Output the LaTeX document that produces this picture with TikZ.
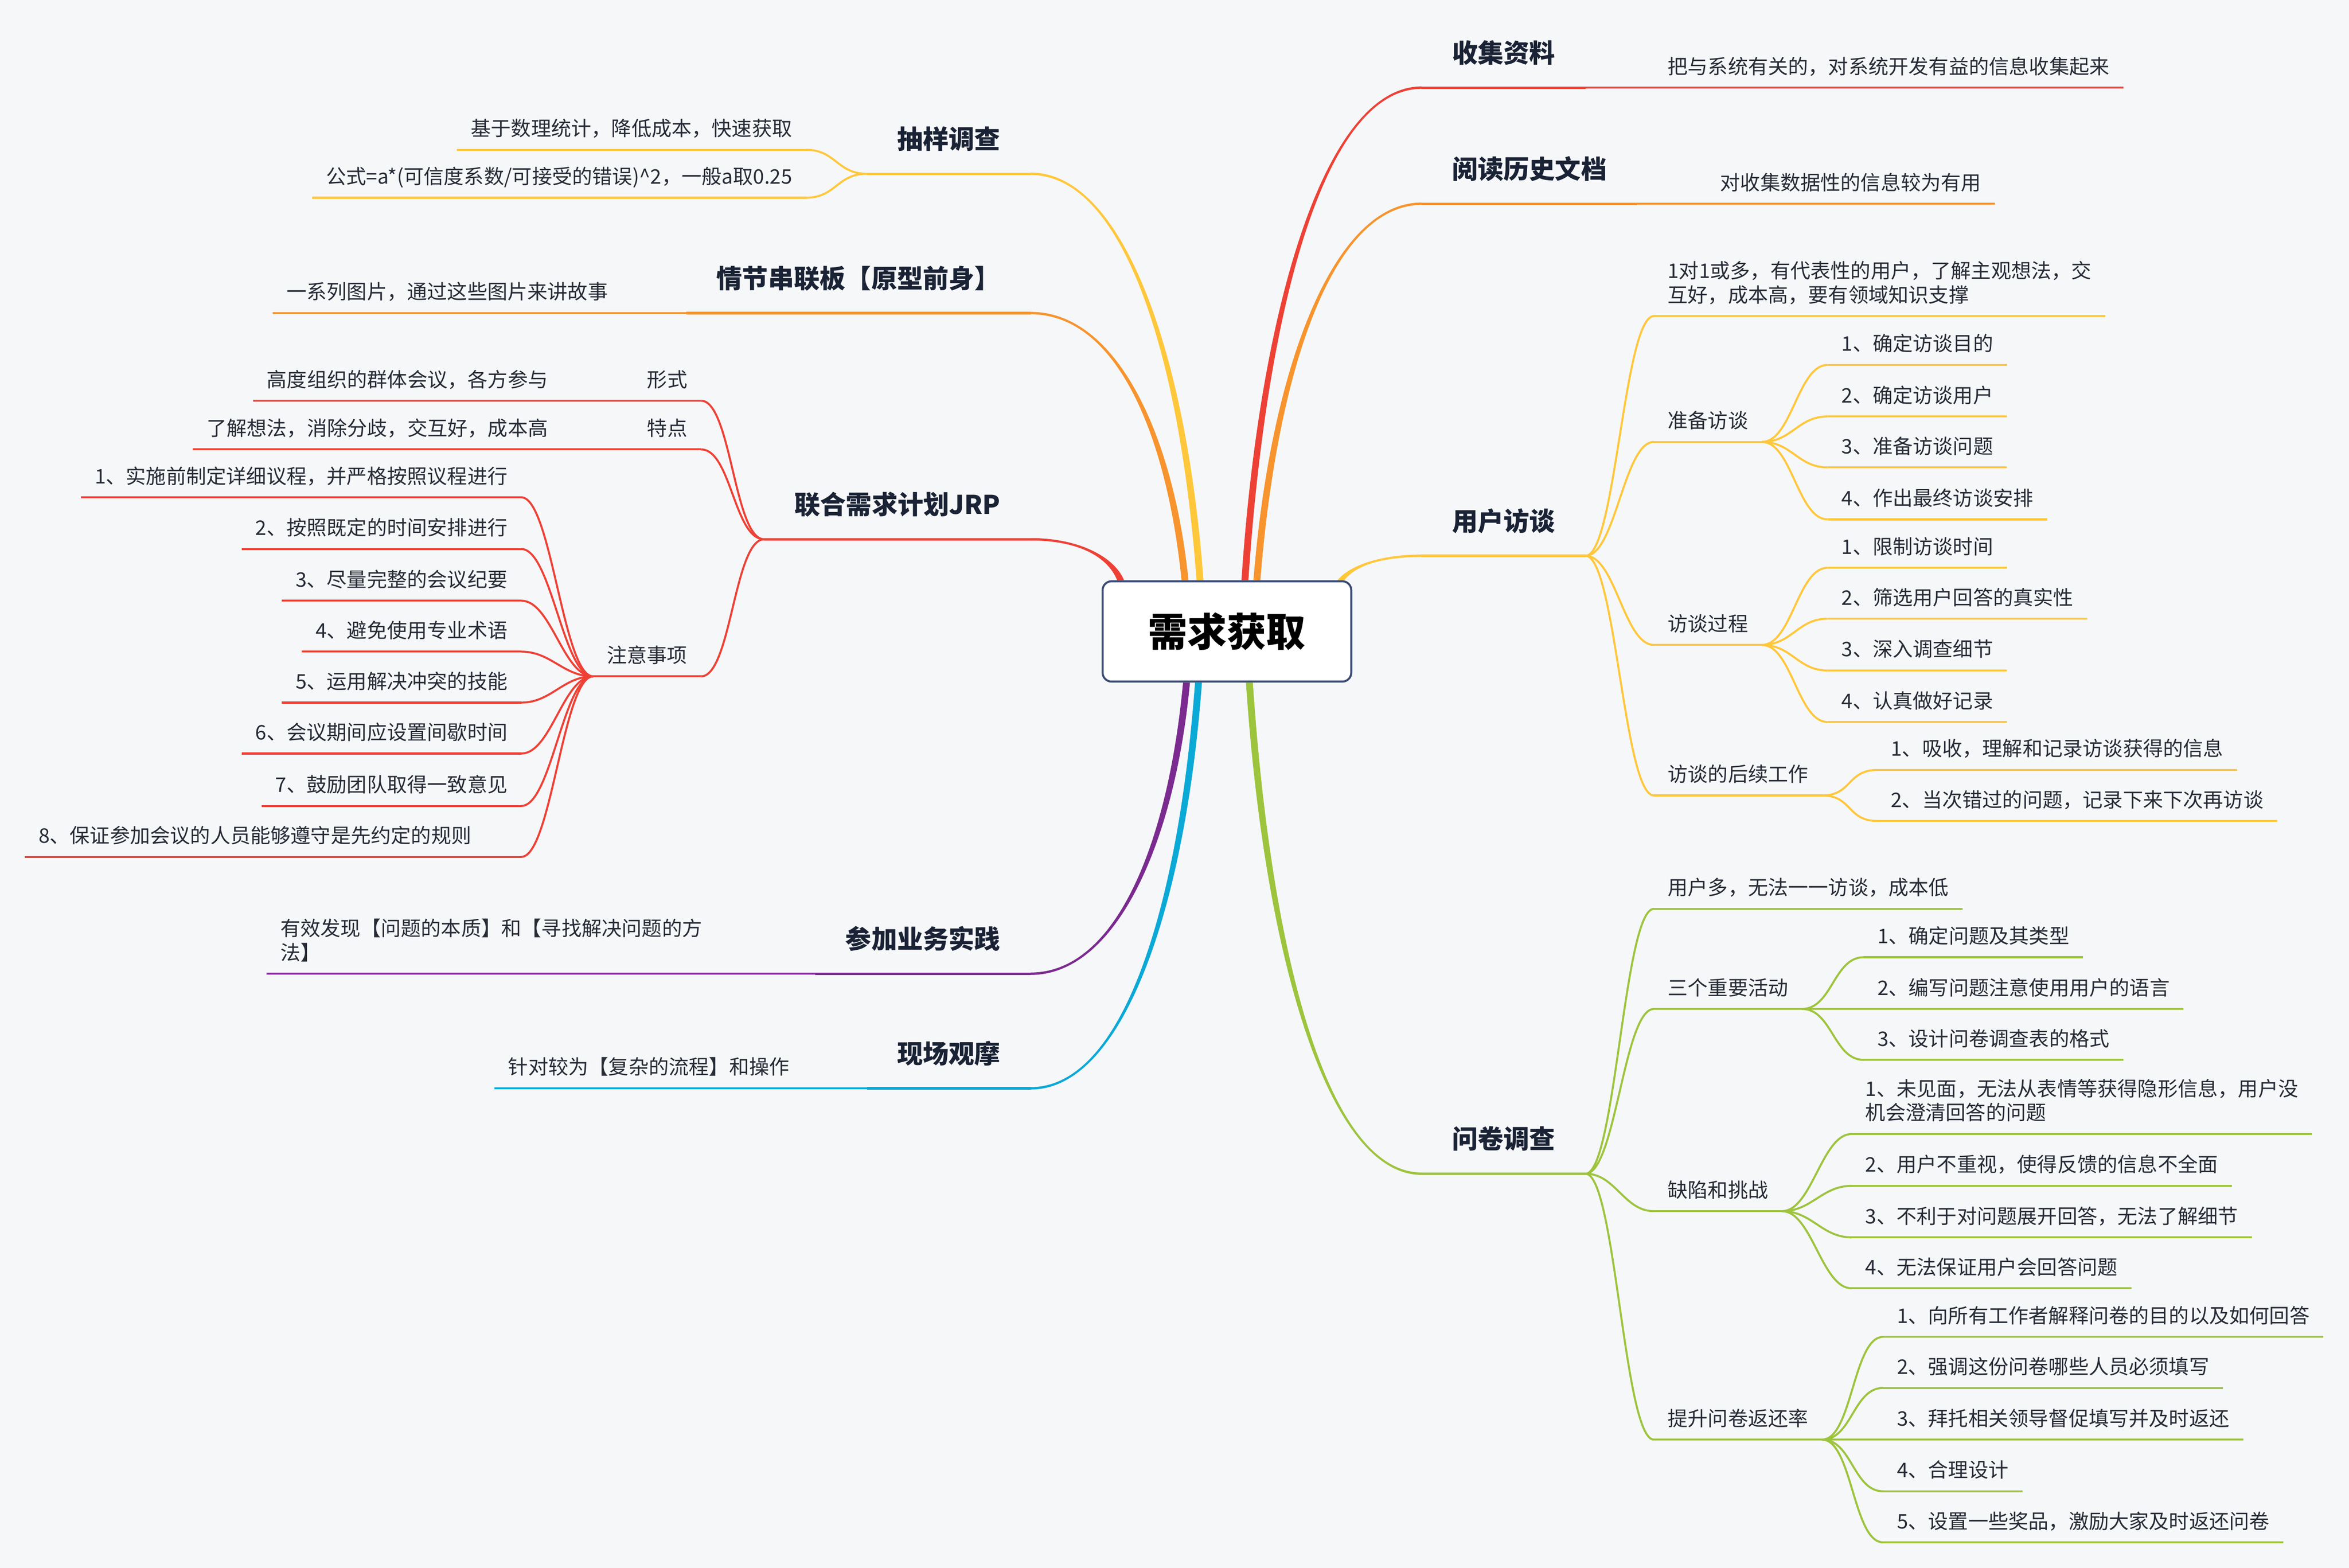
\documentclass[tikz,border=0pt]{standalone}
\usepackage{fontspec}
\setmainfont{Noto Sans CJK SC}
\usetikzlibrary{calc}
\usetikzlibrary{backgrounds}
\definecolor{bgcol}{HTML}{F6F7F9}
\definecolor{rootcol}{HTML}{3A4B74}
\definecolor{leafcol}{HTML}{262B36}
\definecolor{topiccol}{HTML}{1A2335}
\definecolor{cred}{HTML}{EE4136}
\definecolor{corange}{HTML}{F7942D}
\definecolor{cyel}{HTML}{FFC73A}
\definecolor{cpurple}{HTML}{7B2B8F}
\definecolor{ccyan}{HTML}{0AA9D6}
\definecolor{cgreen}{HTML}{9DC43D}
\tikzset{rootbox/.style={draw=rootcol, line width=0.4mm, fill=white, rounded corners=1.8mm,
      minimum width=49.8mm, minimum height=20.1mm, text=black,
      font=\fontsize{22.4pt}{26pt}\selectfont\bfseries}}
\tikzset{topic/.style={font=\fontsize{14.7pt}{17pt}\selectfont\bfseries, text=topiccol,
      inner xsep=6mm, inner ysep=2.4mm, text height=4mm, text depth=2.55mm}}
\tikzset{leaf/.style={font=\fontsize{11.44pt}{13.6pt}\selectfont, text=leafcol,
      inner xsep=2.7mm, inner ysep=0.6mm, text height=3.1mm, text depth=2.1mm}}
\tikzset{tline/.style={append after command={(\tikzlastnode.south west) edge[line width=0.5mm,#1] (\tikzlastnode.south east)}}}
\tikzset{uline/.style={append after command={(\tikzlastnode.south west) edge[line width=0.4mm,#1] (\tikzlastnode.south east)}}}
\tikzset{link/.style={line width=0.4mm}}
\newcommand{\trunk}[7]{\fill[#1] ($(#2)+(#6*2.3,0)$) .. controls +(#3) and +(#4) .. ($(#5)+(0,#7*0.8)$)
  -- ($(#5)+(0,{-(#7)*0.8})$) .. controls +(#4) and +(#3) .. ($(#2)+({-(#6)*2.3},0)$) -- cycle;}
\newcommand{\rlink}[3]{\draw[link,#1] (#2.south east) .. controls +(20,0) and +(-20,0) .. (#3.south west);}
\newcommand{\llink}[3]{\draw[link,#1] (#2.south west) .. controls +(-20,0) and +(20,0) .. (#3.south east);}

\begin{document}
\begin{tikzpicture}[x=0.3mm,y=-0.3mm]
		\useasboundingbox (0,0) rectangle (1568,1046.7);
		\node[rootbox] (root) at (819,421.5) {需求获取};
		\coordinate (sy-in) at ($(root.north)+(-18,0)$);
		\coordinate (qj-in) at ($(root.north)+(-28,0)$);
		\coordinate (jrp-in) at ($(root.north)+(-71,0)$);
		\coordinate (cj-in) at ($(root.south)+(-27,0)$);
		\coordinate (xc-in) at ($(root.south)+(-19,0)$);
		\coordinate (sj-in) at ($(root.north)+(12,0)$);
		\coordinate (yd-in) at ($(root.north)+(20,0)$);
		\coordinate (yh-in) at ($(root.north east)+(-9,2)$);
		\coordinate (wj-in) at ($(root.south)+(15,0)$);

		\node[topic, tline=cyel, anchor=south east] (sy) at (688,116) {抽样调查};
		\node[leaf, uline=cyel, anchor=south east] (sy1) at (538,100) {基于数理统计，降低成本，快速获取};
		\node[leaf, uline=cyel, anchor=south east] (sy2) at (538,132) {公式=a*(可信度系数/可接受的错误)\textasciicircum 2，一般a取0.25};
		\llink{cyel}{sy}{sy1}
		\llink{cyel}{sy}{sy2}

		\node[topic, tline=corange, anchor=south east] (qj) at (688,209) {情节串联板【原型前身】};
		\node[leaf, uline=corange, anchor=south east] (qj1) at (415,209) {一系列图片，通过这些图片来讲故事};
		\draw[link, corange] (qj.south west) -- (qj1.south east);

		\node[topic, tline=cred, anchor=south east] (jrp) at (688,360) {联合需求计划JRP};
		\node[leaf, uline=cred, anchor=south east] (xs) at (468,267.5) {形式};
		\node[leaf, uline=cred, anchor=south east] (xs1) at (375,267.5) {高度组织的群体会议，各方参与};
		\node[leaf, uline=cred, anchor=south east] (td) at (468,300) {特点};
		\node[leaf, uline=cred, anchor=south east] (td1) at (375,300) {了解想法，消除分歧，交互好，成本高};
		\node[leaf, uline=cred, anchor=south east] (zy) at (468,451.5) {注意事项};
		\node[leaf, uline=cred, anchor=south east] (zy1) at (348,332) {1、实施前制定详细议程，并严格按照议程进行};
		\node[leaf, uline=cred, anchor=south east] (zy2) at (348,366.5) {2、按照既定的时间安排进行};
		\node[leaf, uline=cred, anchor=south east] (zy3) at (348,401) {3、尽量完整的会议纪要};
		\node[leaf, uline=cred, anchor=south east] (zy4) at (348,435) {4、避免使用专业术语};
		\node[leaf, uline=cred, anchor=south east] (zy5) at (348,469) {5、运用解决冲突的技能};
		\node[leaf, uline=cred, anchor=south east] (zy6) at (348,503) {6、会议期间应设置间歇时间};
		\node[leaf, uline=cred, anchor=south east] (zy7) at (348,538) {7、鼓励团队取得一致意见};
		\node[leaf, uline=cred, anchor=south east, text width=93.9mm, align=left] (zy8) at (348,572) {8、保证参加会议的人员能够遵守是先约定的规则};
		\llink{cred}{jrp}{xs}
		\llink{cred}{jrp}{td}
		\llink{cred}{jrp}{zy}
		\draw[link, cred] (xs.south west) -- (xs1.south east);
		\draw[link, cred] (td.south west) -- (td1.south east);
		\llink{cred}{zy}{zy1}
		\llink{cred}{zy}{zy2}
		\llink{cred}{zy}{zy3}
		\llink{cred}{zy}{zy4}
		\llink{cred}{zy}{zy5}
		\llink{cred}{zy}{zy6}
		\llink{cred}{zy}{zy7}
		\llink{cred}{zy}{zy8}

		\node[topic, tline=cpurple, anchor=south east] (cj) at (688,650) {参加业务实践};
		\node[leaf, uline=cpurple, anchor=south west, align=left] (cj1) at (178,650) {有效发现【问题的本质】和【寻找解决问题的方\\法】};
		\draw[link, cpurple] (cj.south west) -- (cj1.south east);

		\node[topic, tline=ccyan, anchor=south east] (xc) at (688,726.5) {现场观摩};
		\node[leaf, uline=ccyan, anchor=south west] (xc1) at (330,726.5) {针对较为【复杂的流程】和操作};
		\draw[link, ccyan] (xc.south west) -- (xc1.south east);

		\node[topic, tline=cred, anchor=south west] (sj) at (949,58.5) {收集资料};
		\node[leaf, uline=cred, anchor=south west] (sj1) at (1104,58.5) {把与系统有关的，对系统开发有益的信息收集起来};
		\draw[link, cred] (sj.south east) -- (sj1.south west);

		\node[topic, tline=corange, anchor=south west] (yd) at (949,136) {阅读历史文档};
		\node[leaf, uline=corange, anchor=south west] (yd1) at (1139,136) {对收集数据性的信息较为有用};
		\draw[link, corange] (yd.south east) -- (yd1.south west);

		\node[topic, tline=cyel, anchor=south west] (yh) at (949,371) {用户访谈};
		\node[leaf, uline=cyel, anchor=south west, align=left] (yh1) at (1104,211) {1对1或多，有代表性的用户，了解主观想法，交\\互好，成本高，要有领域知识支撑};
		\node[leaf, uline=cyel, anchor=south west] (zb) at (1104,295) {准备访谈};
		\node[leaf, uline=cyel, anchor=south west] (zb1) at (1220,243.6) {1、确定访谈目的};
		\node[leaf, uline=cyel, anchor=south west] (zb2) at (1220,278) {2、确定访谈用户};
		\node[leaf, uline=cyel, anchor=south west] (zb3) at (1220,312) {3、准备访谈问题};
		\node[leaf, uline=cyel, anchor=south west] (zb4) at (1220,346.7) {4、作出最终访谈安排};
		\node[leaf, uline=cyel, anchor=south west] (gc) at (1104,430.5) {访谈过程};
		\node[leaf, uline=cyel, anchor=south west] (gc1) at (1220,379) {1、限制访谈时间};
		\node[leaf, uline=cyel, anchor=south west] (gc2) at (1220,413) {2、筛选用户回答的真实性};
		\node[leaf, uline=cyel, anchor=south west] (gc3) at (1220,447.6) {3、深入调查细节};
		\node[leaf, uline=cyel, anchor=south west] (gc4) at (1220,482) {4、认真做好记录};
		\node[leaf, uline=cyel, anchor=south west] (hx) at (1104,531) {访谈的后续工作};
		\node[leaf, uline=cyel, anchor=south west] (hx1) at (1253,514) {1、吸收，理解和记录访谈获得的信息};
		\node[leaf, uline=cyel, anchor=south west] (hx2) at (1253,548) {2、当次错过的问题，记录下来下次再访谈};
		\rlink{cyel}{yh}{yh1}
		\rlink{cyel}{yh}{zb}
		\rlink{cyel}{yh}{gc}
		\rlink{cyel}{yh}{hx}
		\rlink{cyel}{zb}{zb1}
		\rlink{cyel}{zb}{zb2}
		\rlink{cyel}{zb}{zb3}
		\rlink{cyel}{zb}{zb4}
		\rlink{cyel}{gc}{gc1}
		\rlink{cyel}{gc}{gc2}
		\rlink{cyel}{gc}{gc3}
		\rlink{cyel}{gc}{gc4}
		\rlink{cyel}{hx}{hx1}
		\rlink{cyel}{hx}{hx2}

		\node[topic, tline=cgreen, anchor=south west] (wj) at (949,783.5) {问卷调查};
		\node[leaf, uline=cgreen, anchor=south west] (wj1) at (1104,606.7) {用户多，无法一一访谈，成本低};
		\node[leaf, uline=cgreen, anchor=south west] (sg) at (1104,673.5) {三个重要活动};
		\node[leaf, uline=cgreen, anchor=south west] (sg1) at (1244,639) {1、确定问题及其类型};
		\node[leaf, uline=cgreen, anchor=south west] (sg2) at (1244,673.5) {2、编写问题注意使用用户的语言};
		\node[leaf, uline=cgreen, anchor=south west] (sg3) at (1244,707.5) {3、设计问卷调查表的格式};
		\node[leaf, uline=cgreen, anchor=south west] (qx) at (1104,808.5) {缺陷和挑战};
		\node[leaf, uline=cgreen, anchor=south west, align=left] (qx1) at (1236,757) {1、未见面，无法从表情等获得隐形信息，用户没\\机会澄清回答的问题};
		\node[leaf, uline=cgreen, anchor=south west] (qx2) at (1236,791.6) {2、用户不重视，使得反馈的信息不全面};
		\node[leaf, uline=cgreen, anchor=south west] (qx3) at (1236,826) {3、不利于对问题展开回答，无法了解细节};
		\node[leaf, uline=cgreen, anchor=south west] (qx4) at (1236,860) {4、无法保证用户会回答问题};
		\node[leaf, uline=cgreen, anchor=south west] (ts) at (1104,961) {提升问卷返还率};
		\node[leaf, uline=cgreen, anchor=south west] (ts1) at (1257,892.4) {1、向所有工作者解释问卷的目的以及如何回答};
		\node[leaf, uline=cgreen, anchor=south west] (ts2) at (1257,926.5) {2、强调这份问卷哪些人员必须填写};
		\node[leaf, uline=cgreen, anchor=south west] (ts3) at (1257,961) {3、拜托相关领导督促填写并及时返还};
		\node[leaf, uline=cgreen, anchor=south west] (ts4) at (1257,995.5) {4、合理设计};
		\node[leaf, uline=cgreen, anchor=south west] (ts5) at (1257,1029.6) {5、设置一些奖品，激励大家及时返还问卷};
		\rlink{cgreen}{wj}{wj1}
		\rlink{cgreen}{wj}{sg}
		\rlink{cgreen}{wj}{qx}
		\rlink{cgreen}{wj}{ts}
		\rlink{cgreen}{sg}{sg1}
		\rlink{cgreen}{sg}{sg2}
		\rlink{cgreen}{sg}{sg3}
		\rlink{cgreen}{qx}{qx1}
		\rlink{cgreen}{qx}{qx2}
		\rlink{cgreen}{qx}{qx3}
		\rlink{cgreen}{qx}{qx4}
		\rlink{cgreen}{ts}{ts1}
		\rlink{cgreen}{ts}{ts2}
		\rlink{cgreen}{ts}{ts3}
		\rlink{cgreen}{ts}{ts4}
		\rlink{cgreen}{ts}{ts5}

		\begin{scope}[on background layer]
		\fill[bgcol] (0,0) rectangle (1568,1046.7);
		\trunk{cred}{jrp-in}{-6,-15}{33,0}{jrp.south east}{-1}{1}
		\trunk{corange}{qj-in}{-10,-98}{57,0}{qj.south east}{-1}{1}
		\trunk{cyel}{sy-in}{-11,-150}{62,0}{sy.south east}{-1}{1}
		\trunk{cpurple}{cj-in}{-10,107}{57,0}{cj.south east}{-1}{-1}
		\trunk{ccyan}{xc-in}{-11,149}{62,0}{xc.south east}{-1}{-1}
		\trunk{cred}{sj-in}{12,-181}{-65,0}{sj.south west}{1}{1}
		\trunk{corange}{yd-in}{11,-139}{-60,0}{yd.south west}{1}{1}
		\trunk{cyel}{yh-in}{6,-10}{-31,0}{yh.south west}{1}{1}
		\trunk{cgreen}{wj-in}{12,181}{-63,0}{wj.south west}{1}{-1}
		\end{scope}
\end{tikzpicture}
\end{document}
